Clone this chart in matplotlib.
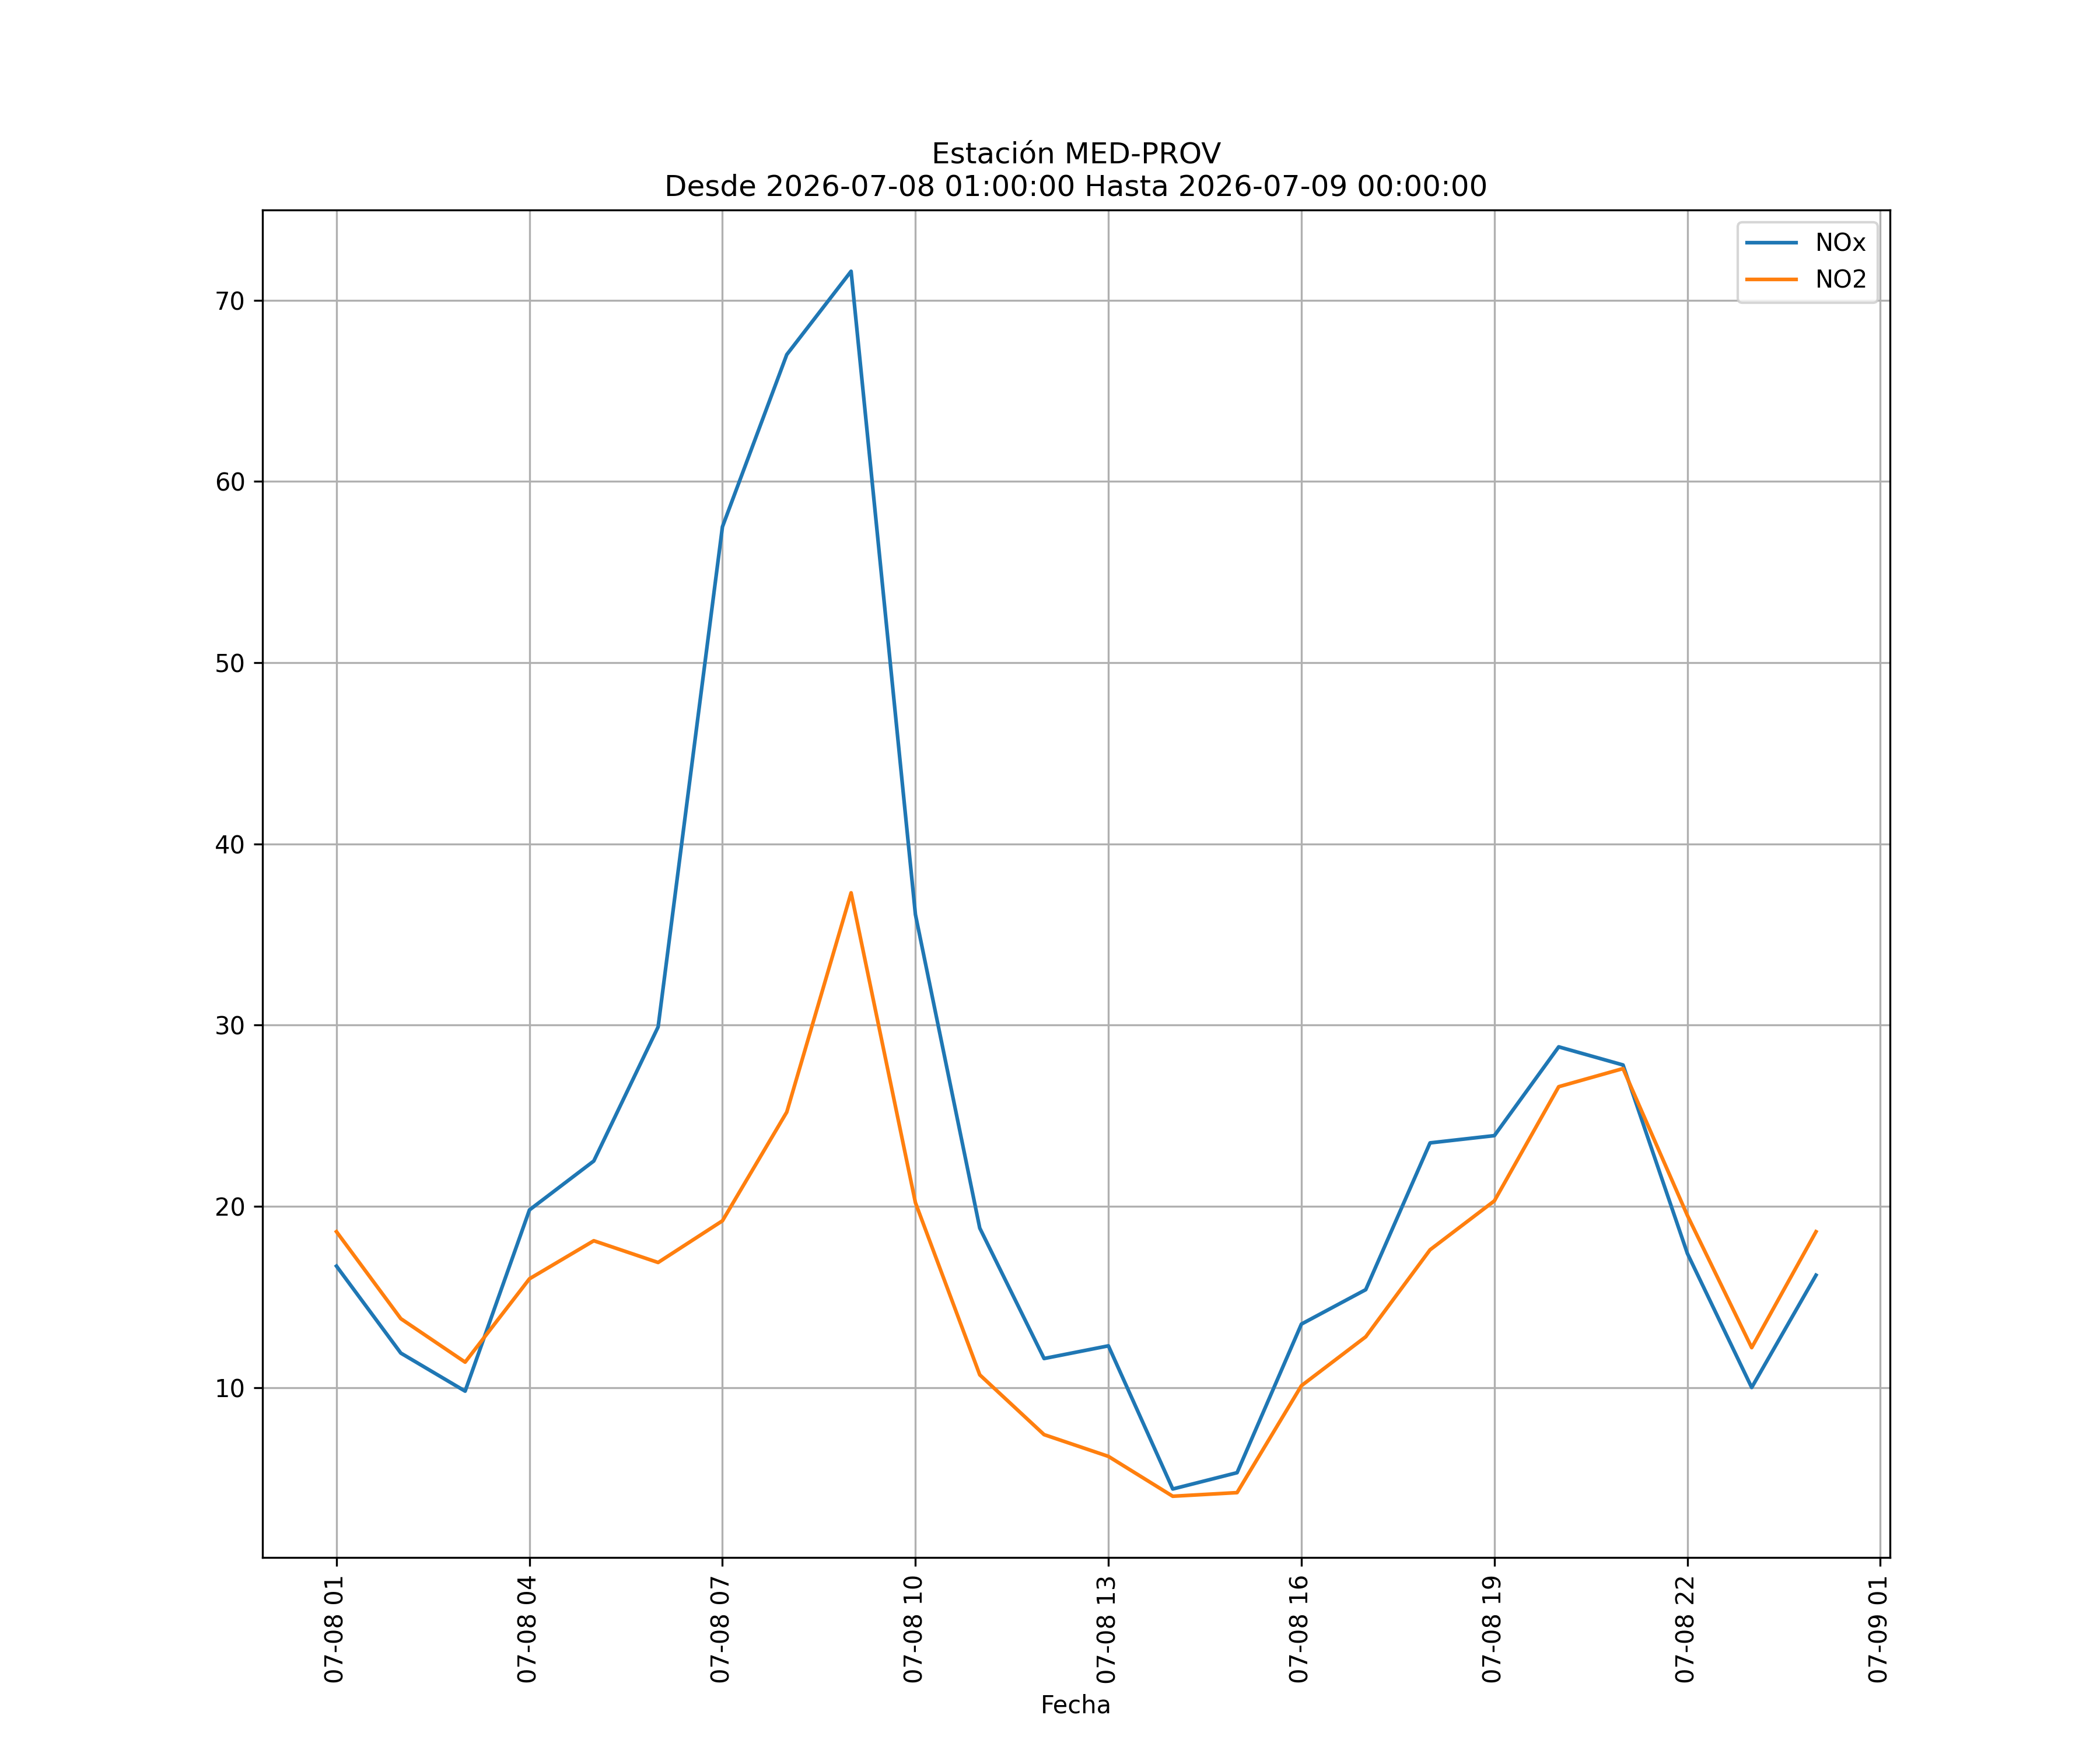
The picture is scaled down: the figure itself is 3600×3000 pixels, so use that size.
import matplotlib
matplotlib.use('Agg')
import matplotlib.pyplot as plt
import matplotlib.dates as mdates
import pandas as pd

fechas = pd.date_range('2026-07-08 01:00:00', '2026-07-09 00:00:00', freq='h')
nox = [16.7, 11.9, 9.8, 19.8, 22.5, 29.9, 57.5, 67.0, 71.6, 36.1, 18.8, 11.6,
       12.3, 4.4, 5.3, 13.5, 15.4, 23.5, 23.9, 28.8, 27.8, 17.4, 10.0, 16.2]
no2 = [18.6, 13.8, 11.4, 16.0, 18.1, 16.9, 19.2, 25.2, 37.3, 20.2, 10.7, 7.4,
       6.2, 4.0, 4.2, 10.1, 12.8, 17.6, 20.3, 26.6, 27.6, 19.5, 12.2, 18.6]

fig, ax = plt.subplots(figsize=(12, 10))
ax.plot(fechas, nox, label='NOx')
ax.plot(fechas, no2, label='NO2')
ax.xaxis.set_major_locator(mdates.HourLocator(byhour=range(1, 24, 3)))
ax.xaxis.set_major_formatter(mdates.DateFormatter('%m-%d %H'))
plt.setp(ax.get_xticklabels(), rotation=90)
ax.set_xlabel('Fecha')
ax.set_title('Estación MED-PROV\nDesde 2026-07-08 01:00:00 Hasta 2026-07-09 00:00:00')
ax.grid(True)
ax.legend(loc='upper right')
fig.savefig('out.png', dpi=300)
